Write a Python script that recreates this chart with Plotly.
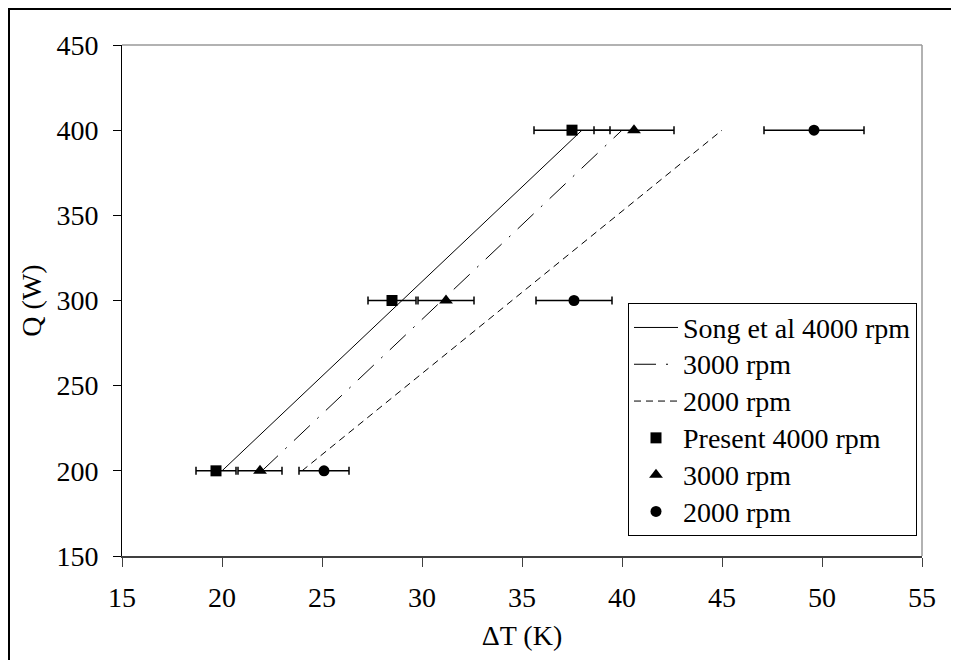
import plotly.graph_objects as go

# Correlation lines (Song et al)
song_q = [200, 300, 400]
song_4000_dt = [20.0, 29.0, 38.0]
song_3000_dt = [22.0, 31.0, 40.0]
song_2000_dt = [24.0, 34.5, 45.0]

# Present measurements
present_q = [200, 300, 400]
present_4000_dt = [19.7, 28.5, 37.5]
present_4000_err = [1.0, 1.2, 1.9]
present_3000_dt = [21.9, 31.2, 40.6]
present_3000_err = [1.1, 1.4, 2.0]
present_2000_dt = [25.1, 37.6, 49.6]
present_2000_err = [1.25, 1.9, 2.5]

x_ticks = [15, 20, 25, 30, 35, 40, 45, 50, 55]
y_ticks = [150, 200, 250, 300, 350, 400, 450]

legend_names = ["Song et al 4000 rpm", "3000 rpm", "2000 rpm",
                "Present 4000 rpm", "3000 rpm", "2000 rpm"]

FONT = "Liberation Serif, Times New Roman, serif"
FS = 28


def lname(s):
    return '<span style="font-size:28px">' + s + "</span>"


fig = go.Figure()

fig.add_trace(go.Scatter(x=song_4000_dt, y=song_q, mode="lines", name=lname(legend_names[0]),
                         line=dict(color="black", width=1, dash="solid")))
fig.add_trace(go.Scatter(x=song_3000_dt, y=song_q, mode="lines", name=lname(legend_names[1]),
                         line=dict(color="black", width=1, dash="22px,10px,2px,10px")))
fig.add_trace(go.Scatter(x=song_2000_dt, y=song_q, mode="lines", name=lname(legend_names[2]),
                         line=dict(color="black", width=1, dash="7px,5px")))

err_style = dict(type="data", color="black", thickness=1.5, width=4)
fig.add_trace(go.Scatter(x=present_4000_dt, y=present_q, mode="markers", name=lname(legend_names[3]),
                         marker=dict(symbol="square", size=11, color="black"),
                         error_x=dict(array=present_4000_err, **err_style)))
fig.add_trace(go.Scatter(x=present_3000_dt, y=present_q, mode="markers", name=lname(legend_names[4]),
                         marker=dict(symbol="triangle-up", size=12, color="black"),
                         error_x=dict(array=present_3000_err, **err_style)))
fig.add_trace(go.Scatter(x=present_2000_dt, y=present_q, mode="markers", name=lname(legend_names[5]),
                         marker=dict(symbol="circle", size=11, color="black"),
                         error_x=dict(array=present_2000_err, **err_style)))

fig.update_layout(
    width=951, height=652,
    margin=dict(l=114, r=37, t=37, b=104, pad=0),
    paper_bgcolor="white", plot_bgcolor="white",
    font=dict(family=FONT, size=FS, color="black"),
    showlegend=True,
    legend=dict(x=0.6325, y=0.495, xanchor="left", yanchor="top",
                bordercolor="black", borderwidth=1, bgcolor="white",
                font=dict(family=FONT, size=26, color="black"),
                itemwidth=44, tracegroupgap=0),
    xaxis=dict(range=[15, 55], tickvals=x_ticks, ticktext=[str(v) for v in x_ticks],
               showgrid=False, zeroline=False, showline=True, linecolor="#404040", linewidth=1.5,
               ticks="outside", ticklen=9, tickcolor="#404040", tickwidth=1,
               ticklabelstandoff=7,
               title=dict(text="ΔT (K)", font=dict(family=FONT, size=FS), standoff=13)),
    yaxis=dict(range=[150, 450], tickvals=y_ticks, ticktext=[str(v) for v in y_ticks],
               showgrid=False, zeroline=False, showline=True, linecolor="black", linewidth=1,
               ticks="outside", ticklen=8, tickcolor="black", tickwidth=1,
               ticklabelstandoff=9,
               title=dict(text="Q (W)", font=dict(family=FONT, size=FS), standoff=6)),
    shapes=[
        # gray top and right plot border
        dict(type="line", xref="paper", yref="paper", x0=0, x1=1, y0=1, y1=1,
             line=dict(color="#999999", width=1.5)),
        dict(type="line", xref="paper", yref="paper", x0=1, x1=1, y0=0, y1=1,
             line=dict(color="#999999", width=1.5)),
        # outer figure frame (top and left edges visible)
        dict(type="rect", xref="paper", yref="paper",
             x0=(1 - 114) / 800, x1=(1200 - 114) / 800,
             y0=(548 - 900) / 511, y1=1 + (37 - 1) / 511,
             line=dict(color="black", width=2), fillcolor="rgba(0,0,0,0)", layer="below"),
    ],
)

fig.write_html("out.html")
